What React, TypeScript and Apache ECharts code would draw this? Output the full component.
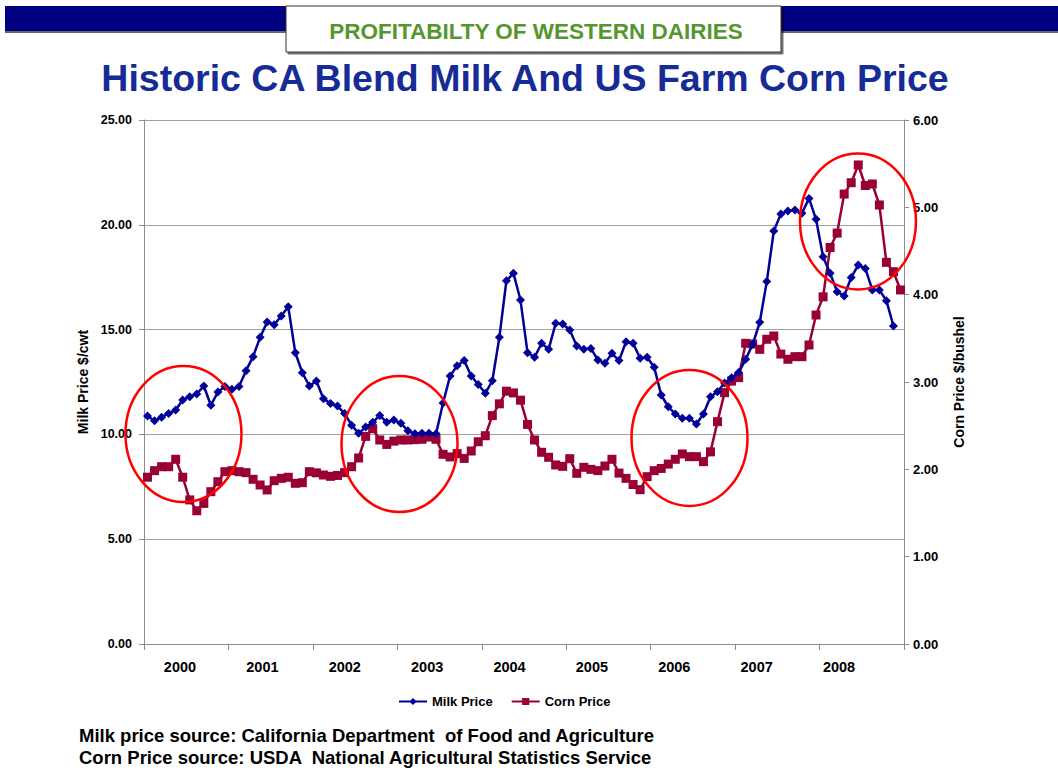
import React, { useEffect, useRef } from 'react';
import * as echarts from 'echarts';

const years = ['2000', '2001', '2002', '2003', '2004', '2005', '2006', '2007', '2008'];
const yearLabelValues = [2000, 2001, 2002, 2003, 2004, 2005, 2006, 2007, 2008];
const monthNames = ['Jan', 'Feb', 'Mar', 'Apr', 'May', 'Jun', 'Jul', 'Aug', 'Sep', 'Oct', 'Nov', 'Dec'];
const months = years.flatMap((y) => monthNames.map((m) => `${m} ${y}`));

// CA blend milk price, $/cwt (monthly, Jan 2000 - Dec 2008)
const milkPrice: (number | null)[] = [
  10.88, 10.65, 10.82, 11.0, 11.16, 11.64, 11.8, 11.93, 12.31, 11.39, 12.02, 12.28,
  12.15, 12.28, 13.04, 13.71, 14.63, 15.36, 15.23, 15.65, 16.09, 13.9, 12.94, 12.31,
  12.55, 11.7, 11.48, 11.35, 11.0, 10.44, 10.05, 10.35, 10.58, 10.9, 10.58, 10.69,
  10.53, 10.18, 10.03, 10.05, 10.05, 10.03, 11.5, 12.79, 13.28, 13.53, 12.79, 12.38,
  11.96, 12.56, 14.63, 17.33, 17.69, 16.41, 13.9, 13.68, 14.35, 14.06, 15.3, 15.27,
  14.98, 14.22, 14.06, 14.1, 13.55, 13.39, 13.87, 13.52, 14.42, 14.35, 13.63, 13.68,
  13.2, 11.88, 11.32, 10.97, 10.77, 10.77, 10.5, 10.97, 11.8, 12.04, 12.45, 12.7,
  12.95, 13.58, 14.3, 15.35, 17.29, 19.7, 20.52, 20.66, 20.71, 20.55, 21.26, 20.26,
  18.48, 17.69, 16.81, 16.6, 17.49, 18.08, 17.92, 16.89, 16.89, 16.38, 15.17, null,
];

// US farm corn price, $/bushel (monthly, Jan 2000 - Dec 2008)
const cornPrice: number[] = [
  1.91, 1.985, 2.03, 2.03, 2.115, 1.91, 1.65, 1.526, 1.61, 1.744, 1.858, 1.973,
  1.985, 1.973, 1.962, 1.886, 1.821, 1.764, 1.87, 1.897, 1.909, 1.84, 1.847, 1.973,
  1.96, 1.935, 1.92, 1.93, 1.962, 2.03, 2.13, 2.377, 2.465, 2.336, 2.285, 2.323,
  2.336, 2.336, 2.34, 2.344, 2.37, 2.344, 2.172, 2.142, 2.18, 2.125, 2.21, 2.316,
  2.385, 2.615, 2.75, 2.895, 2.875, 2.792, 2.514, 2.336, 2.195, 2.138, 2.05, 2.034,
  2.122, 1.954, 2.023, 2.0, 1.985, 2.038, 2.115, 1.957, 1.897, 1.826, 1.767, 1.916,
  1.985, 2.01, 2.06, 2.115, 2.176, 2.145, 2.145, 2.088, 2.2, 2.546, 2.878, 3.01,
  3.05, 3.443, 3.435, 3.374, 3.489, 3.527, 3.32, 3.26, 3.29, 3.29, 3.424, 3.767,
  3.975, 4.54, 4.705, 5.152, 5.282, 5.485, 5.25, 5.267, 5.027, 4.37, 4.263, 4.054,
];

// Highlight circles: centre as (month index, milk price)
const highlightMonth = [5.11, 35.81, 77.02, 100.96];
const highlightMilk = [10.02, 9.54, 9.83, 20.16];

const FONT = '"Liberation Sans", Arial, Helvetica, sans-serif';

export default function App() {
  const ref = useRef<HTMLDivElement>(null);

  useEffect(() => {
    if (!ref.current) return;
    const chart = echarts.init(ref.current, undefined, { renderer: 'svg' });
    const axisGrey = '#8c8c8c';
    const option: any = {
      animation: false,
      backgroundColor: '#ffffff',
      textStyle: { fontFamily: FONT },
      grid: { left: 144, right: 154, top: 120, bottom: 126 },
      legend: {
        data: ['Milk Price', 'Corn Price'],
        top: 690,
        left: 393,
        itemWidth: 28,
        itemHeight: 9,
        itemGap: 18,
        textStyle: { fontSize: 13, fontWeight: 'bold', color: '#000', fontFamily: FONT },
      },
      xAxis: [
        {
          type: 'category',
          data: months,
          boundaryGap: true,
          axisLine: { show: false },
          axisTick: { show: false },
          axisLabel: { show: false },
          splitLine: { show: false },
        },
        {
          type: 'category',
          data: years,
          position: 'bottom',
          boundaryGap: true,
          axisLine: { show: true, lineStyle: { color: axisGrey, width: 1 } },
          axisTick: { show: true, length: 6, interval: 0, lineStyle: { color: axisGrey } },
          axisLabel: { show: false },
          splitLine: { show: false },
        },
        {
          type: 'value',
          position: 'bottom',
          min: 1999.563,
          max: 2008.789,
          axisLine: { show: false },
          axisTick: { show: false },
          splitLine: { show: false },
          axisLabel: {
            customValues: yearLabelValues,
            formatter: (v: number) => String(Math.round(v)),
            margin: 15,
            fontSize: 14.5,
            fontWeight: 'bold',
            color: '#000',
            fontFamily: FONT,
          },
        },
      ],
      yAxis: [
        {
          type: 'value',
          min: 0,
          max: 25,
          interval: 5,
          position: 'left',
          name: 'Milk Price $/cwt',
          nameLocation: 'middle',
          nameGap: 45,
          nameTextStyle: { fontSize: 14, fontWeight: 'bold', color: '#000', fontFamily: FONT },
          axisLine: { show: true, lineStyle: { color: axisGrey } },
          axisTick: { show: true, length: 5, lineStyle: { color: axisGrey } },
          axisLabel: {
            formatter: (v: number) => v.toFixed(2),
            fontSize: 12.5,
            fontWeight: 'bold',
            color: '#000',
            margin: 12,
            fontFamily: FONT,
          },
          splitLine: { show: true, lineStyle: { color: '#a0a0a0', width: 1 } },
        },
        {
          type: 'value',
          min: 0,
          max: 6,
          interval: 1,
          position: 'right',
          name: 'Corn Price $/bushel',
          nameLocation: 'middle',
          nameGap: 48,
          nameTextStyle: { fontSize: 14, fontWeight: 'bold', color: '#000', fontFamily: FONT },
          axisLine: { show: true, lineStyle: { color: axisGrey } },
          axisTick: { show: true, length: 5, lineStyle: { color: axisGrey } },
          axisLabel: {
            formatter: (v: number) => v.toFixed(2),
            fontSize: 13,
            fontWeight: 'bold',
            color: '#000',
            margin: 9,
            fontFamily: FONT,
          },
          splitLine: { show: false },
        },
      ],
      series: [
        {
          name: 'Milk Price',
          type: 'line',
          xAxisIndex: 0,
          yAxisIndex: 0,
          data: milkPrice,
          symbol: 'diamond',
          symbolSize: 9,
          showAllSymbol: true,
          lineStyle: { color: '#000099', width: 2.5 },
          itemStyle: { color: '#000099' },
          z: 3,
        },
        {
          name: 'Corn Price',
          type: 'line',
          xAxisIndex: 0,
          yAxisIndex: 1,
          data: cornPrice,
          symbol: 'rect',
          symbolSize: 9,
          showAllSymbol: true,
          lineStyle: { color: '#990033', width: 2.5 },
          itemStyle: { color: '#990033' },
          z: 2,
        },
      ],
    };
    chart.setOption(option);

    const toPx = (m: number, v: number) => {
      const f = Math.floor(m);
      const t = m - f;
      const a = chart.convertToPixel({ seriesIndex: 0 }, [f, v]) as number[];
      const b = chart.convertToPixel({ seriesIndex: 0 }, [f + 1, v]) as number[];
      return [a[0] + (b[0] - a[0]) * t, a[1]];
    };

    const ellipses = highlightMonth.map((m, i) => {
      const [cx, cy] = toPx(m, highlightMilk[i]);
      return {
        type: 'ellipse',
        z: 100,
        shape: { cx, cy, rx: 58, ry: 68 },
        style: { fill: 'none', stroke: '#ff0000', lineWidth: 2.5 },
      };
    });

    chart.setOption({
      graphic: [
        {
          type: 'rect',
          z: 10,
          shape: { x: 5, y: 6, width: 1053, height: 25 },
          style: { fill: '#000080', shadowColor: 'rgba(0,0,0,0.6)', shadowOffsetY: 2, shadowBlur: 1 },
        },
        {
          type: 'rect',
          z: 11,
          shape: { x: 286, y: 6, width: 495, height: 46 },
          style: {
            fill: '#ffffff',
            stroke: '#333333',
            lineWidth: 1,
            shadowColor: 'rgba(0,0,0,0.55)',
            shadowOffsetX: 2,
            shadowOffsetY: 2,
            shadowBlur: 1,
          },
        },
        {
          type: 'text',
          z: 12,
          x: 536,
          y: 31,
          style: {
            text: 'PROFITABILTY OF WESTERN DAIRIES',
            font: `bold 22.5px ${FONT}`,
            fill: '#55962f',
            textAlign: 'center',
            textVerticalAlign: 'middle',
          },
        },
        {
          type: 'text',
          z: 12,
          x: 525,
          y: 78,
          style: {
            text: 'Historic CA Blend Milk And US Farm Corn Price',
            font: `bold 37.5px ${FONT}`,
            fill: '#172b96',
            textAlign: 'center',
            textVerticalAlign: 'middle',
          },
        },
        {
          type: 'text',
          z: 12,
          x: 79,
          y: 735,
          style: {
            text: 'Milk price source: California Department  of Food and Agriculture',
            font: `bold 18.5px ${FONT}`,
            fill: '#000000',
            textAlign: 'left',
            textVerticalAlign: 'middle',
          },
        },
        {
          type: 'text',
          z: 12,
          x: 79,
          y: 757,
          style: {
            text: 'Corn Price source: USDA  National Agricultural Statistics Service',
            font: `bold 18.5px ${FONT}`,
            fill: '#000000',
            textAlign: 'left',
            textVerticalAlign: 'middle',
          },
        },
        ...ellipses,
      ],
    });

    return () => chart.dispose();
  }, []);

  return (
    <div
      ref={ref}
      style={{ position: 'absolute', left: 0, top: 0, width: 1058, height: 770, background: '#fff' }}
    />
  );
}
